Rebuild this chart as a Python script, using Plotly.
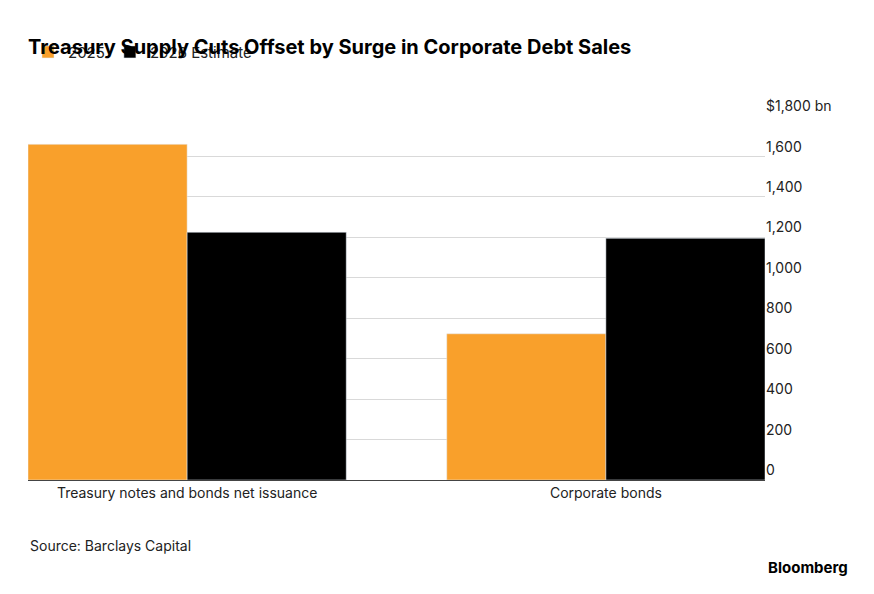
import plotly.graph_objects as go

categories = ["Treasury notes and bonds net issuance", "Corporate bonds"]
values_2025 = [1660, 723]
values_2026 = [1225, 1195]
tick_vals = [0, 200, 400, 600, 800, 1000, 1200, 1400, 1600, 1800]
tick_text = ["0", "200", "400", "600", "800", "1,000", "1,200", "1,400", "1,600", "$1,800 bn"]

font = "Inter, Roboto, Arial, sans-serif"

fig = go.Figure()
fig.add_trace(go.Bar(name="2025", x=categories, y=values_2025, marker_color="#F9A02B"))
fig.add_trace(go.Bar(name="2026 Estimate", x=categories, y=values_2026, marker_color="#000000"))

fig.update_layout(
    width=874, height=594,
    margin=dict(l=20, r=117, t=108, b=122, autoexpand=False),
    paper_bgcolor="white", plot_bgcolor="white",
    font=dict(family=font, size=15, color="#222"),
    barmode="group", bargap=0.24, bargroupgap=0,
    title=dict(text="<b>Treasury Supply Cuts Offset by Surge in Corporate Debt Sales</b>",
               x=0.023, xanchor="left", y=0.935, yanchor="middle", font=dict(size=20, color="#000")),
    legend=dict(orientation="h", x=0.0, y=1.13, xanchor="left", yanchor="bottom",
                font=dict(size=15), itemwidth=30, traceorder="normal"),
    xaxis=dict(range=[-0.38, 1.38], showline=True, linecolor="#444", ticks="",
               tickfont=dict(size=14), automargin=False),
    yaxis=dict(side="right", range=[0, 1800], tickvals=tick_vals, ticktext=tick_text,
               showgrid=True, gridcolor="#d9d9d9", zeroline=False, automargin=False,
               ticklabelposition="outside top", tickfont=dict(size=14)),
    showlegend=True,
)
fig.add_annotation(text="Source: Barclays Capital", xref="paper", yref="paper", x=0, y=-0.18,
                   xanchor="left", yanchor="middle", showarrow=False, font=dict(size=14))
fig.add_annotation(text="<b>Bloomberg</b>", xref="paper", yref="paper", x=1.115, y=-0.24,
                   xanchor="right", yanchor="middle", showarrow=False, font=dict(size=15, color="#000"))

fig.write_html("out.html")
